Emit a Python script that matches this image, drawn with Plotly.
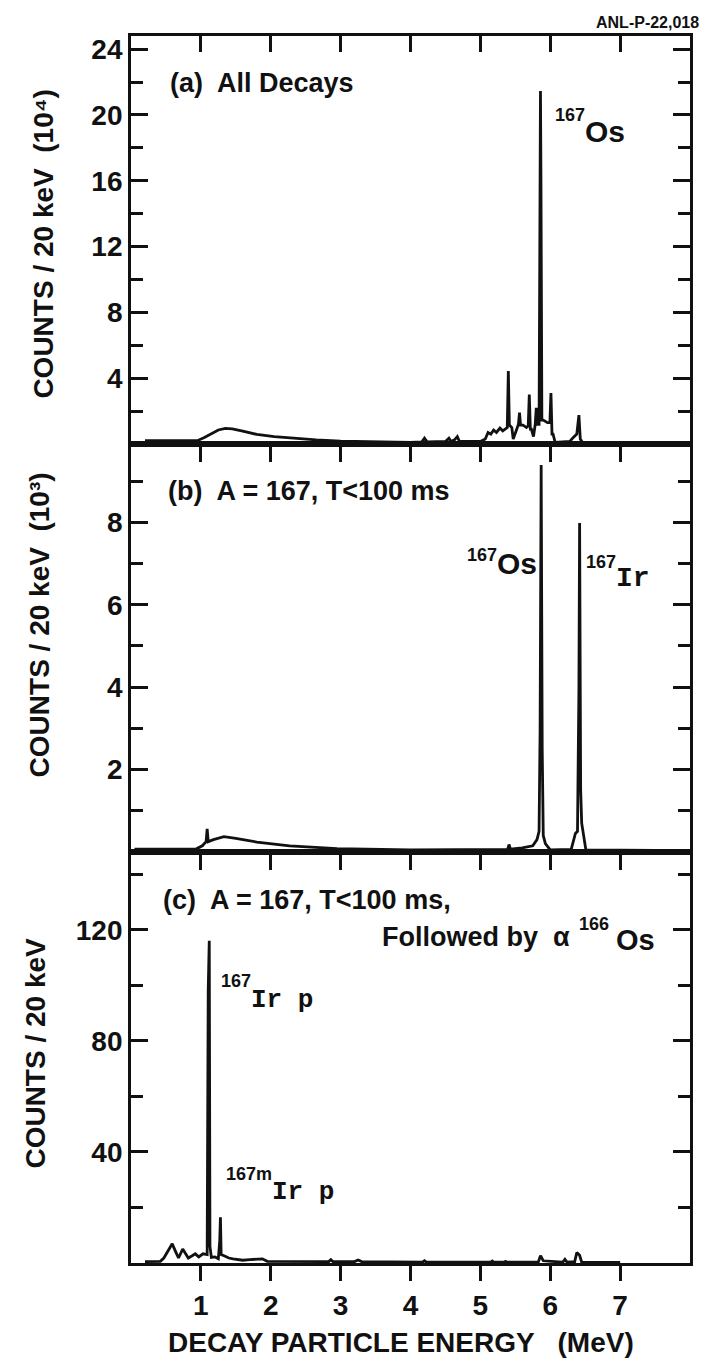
import plotly.graph_objects as go

# Panel (a): all decays, counts / 20 keV in units of 10^4
a_energy = [0.20, 0.95, 1.05, 1.15, 1.25, 1.35, 1.45, 1.60, 1.80, 2.05, 2.30, 2.65, 3.00, 3.50,
            4.00, 4.16, 4.20, 4.24, 4.50, 4.55, 4.58, 4.63, 4.67, 4.70, 5.00, 5.07, 5.11, 5.15,
            5.19, 5.23, 5.28, 5.32, 5.36, 5.385, 5.40, 5.415, 5.45, 5.47, 5.52, 5.545, 5.56,
            5.575, 5.61, 5.66, 5.685, 5.70, 5.715, 5.73, 5.76, 5.785, 5.80, 5.815, 5.84, 5.853,
            5.86, 5.867, 5.88, 5.90, 5.96, 5.995, 6.01, 6.025, 6.04, 6.07, 6.28, 6.33, 6.38,
            6.41, 6.43, 6.46, 8.00]
a_counts = [0.20, 0.20, 0.40, 0.65, 0.85, 0.95, 0.92, 0.78, 0.58, 0.45, 0.35, 0.25, 0.17, 0.12,
            0.10, 0.12, 0.35, 0.12, 0.15, 0.35, 0.15, 0.25, 0.45, 0.15, 0.15, 0.30, 0.70, 0.60,
            0.85, 0.70, 0.97, 0.80, 0.90, 1.00, 4.44, 1.15, 1.00, 0.30, 0.90, 1.20, 1.90,
            1.15, 1.15, 1.00, 1.10, 3.00, 0.90, 0.90, 0.45, 1.20, 2.20, 1.20, 1.20, 16.0,
            21.45, 16.0, 1.45, 1.45, 1.30, 1.30, 3.10, 0.60, 0.60, 0.10, 0.15, 0.40, 0.60,
            1.75, 0.30, 0.10, 0.08]

# Panel (b): A = 167, T < 100 ms, counts / 20 keV in units of 10^3
b_energy = [0.05, 0.93, 1.02, 1.075, 1.09, 1.105, 1.18, 1.33, 1.50, 1.80, 2.27, 2.95, 4.00,
            5.00, 5.39, 5.41, 5.43, 5.60, 5.75, 5.81, 5.84, 5.855, 5.87, 5.885, 5.90, 5.93,
            6.00, 6.30, 6.36, 6.39, 6.41, 6.42, 6.435, 6.45, 6.48, 6.51, 8.00]
b_counts = [0.07, 0.07, 0.15, 0.25, 0.56, 0.25, 0.30, 0.37, 0.33, 0.24, 0.15, 0.08, 0.05,
            0.05, 0.06, 0.18, 0.07, 0.10, 0.15, 0.30, 0.50, 3.00, 9.39, 2.50, 0.40, 0.20,
            0.05, 0.06, 0.45, 0.50, 3.90, 7.98, 1.50, 0.70, 0.40, 0.05, 0.03]

# Panel (c): A = 167, T < 100 ms, followed by alpha decay of 166Os, counts / 20 keV
c_energy = [0.20, 0.42, 0.47, 0.53, 0.59, 0.64, 0.68, 0.74, 0.78, 0.82, 0.87, 0.92, 0.97,
            1.03, 1.09, 1.105, 1.12, 1.13, 1.15, 1.20, 1.25, 1.27, 1.28, 1.29, 1.34, 1.40,
            1.46, 1.60, 1.70, 1.80, 1.88, 1.95, 2.50, 2.83, 2.86, 2.89, 3.20, 3.25, 3.30,
            4.17, 4.20, 4.23, 5.15, 5.17, 5.19, 5.34, 5.36, 5.38, 5.83, 5.86, 5.90, 6.18,
            6.21, 6.24, 6.35, 6.38, 6.42, 6.45, 7.00]
c_counts = [0.5, 0.6, 1.8, 4.5, 6.9, 4.0, 1.8, 5.0, 3.5, 1.8, 2.5, 3.3, 2.2,
            3.3, 3.0, 98.0, 116.0, 6.0, 2.0, 2.2, 1.5, 8.0, 16.5, 3.0, 2.5, 1.8,
            1.5, 1.0, 1.2, 1.4, 1.5, 0.6, 0.5, 0.5, 1.2, 0.5, 0.5, 1.1, 0.5,
            0.3, 0.8, 0.3, 0.3, 0.7, 0.3, 0.3, 0.6, 0.3, 0.4, 2.6, 0.8, 0.3,
            1.3, 0.3, 0.5, 3.8, 2.8, 0.3, 0.2]

energy_ticks = [1, 2, 3, 4, 5, 6, 7]
a_major, a_minor = [4, 8, 12, 16, 20, 24], [2, 6, 10, 14, 18, 22]
b_major, b_minor = [2, 4, 6, 8], [1, 3, 5, 7, 9]
c_major, c_minor = [40, 80, 120], [20, 60, 100, 140]

INK = "#111111"
FONT = "Liberation Sans"
MONO = "Liberation Mono"

fig = go.Figure()
line = dict(color=INK, width=2.8)
fig.add_trace(go.Scatter(x=a_energy, y=a_counts, xaxis="x", yaxis="y", mode="lines", line=line))
fig.add_trace(go.Scatter(x=b_energy, y=b_counts, xaxis="x2", yaxis="y2", mode="lines", line=line))
fig.add_trace(go.Scatter(x=c_energy, y=c_counts, xaxis="x3", yaxis="y3", mode="lines", line=line))
# empty trace that carries the top tick axis of panel (a)
fig.add_trace(go.Scatter(x=[None], y=[None], xaxis="x4", yaxis="y", mode="lines",
                         hoverinfo="skip"))

tickfont = dict(size=28, family=FONT, color=INK, weight="bold")
frame = dict(showline=True, linewidth=2.8, linecolor=INK, mirror=True,
             showgrid=False, zeroline=False)
xcommon = dict(frame, range=[0, 8], tickvals=energy_ticks, ticks="outside", ticklen=15,
               tickwidth=2.6, tickcolor=INK)


def yaxis(domain, anchor, rng, major, minor):
    return dict(frame, domain=domain, anchor=anchor, range=rng, tickvals=major,
                ticks="inside", ticklen=17, tickwidth=2.6, tickcolor=INK,
                tickfont=tickfont, mirror="ticks",
                minor=dict(tickvals=minor, ticks="inside", ticklen=12, tickwidth=2.6,
                           tickcolor=INK))


fig.update_layout(
    width=705, height=1365,
    margin=dict(l=131, r=13, t=36, b=102),
    paper_bgcolor="white", plot_bgcolor="white",
    showlegend=False,
    font=dict(family=FONT, color=INK),
    xaxis=dict(xcommon, anchor="y", showticklabels=False),
    xaxis2=dict(xcommon, anchor="y2", showticklabels=False),
    xaxis3=dict(xcommon, anchor="y3", showticklabels=True, tickfont=tickfont),
    xaxis4=dict(overlaying="x", anchor="y", side="top", range=[0, 8], tickvals=energy_ticks,
                ticks="inside", ticklen=16, tickwidth=2.6, tickcolor=INK,
                showticklabels=False, showline=False, showgrid=False, zeroline=False),
    yaxis=yaxis([0.6675, 1.0], "x", [0, 24.8], a_major, a_minor),
    yaxis2=yaxis([0.335, 0.6675], "x2", [0, 9.9], b_major, b_minor),
    yaxis3=yaxis([0.0, 0.335], "x3", [0, 148], c_major, c_minor),
)

ann = []


def note(text, x, y, xref, yref, size=27, xanchor="left", angle=0, family=FONT, xshift=0):
    ann.append(dict(text=text, x=x, y=y, xref=xref, yref=yref, showarrow=False,
                    xanchor=xanchor, yanchor="middle", textangle=angle, borderpad=0,
                    xshift=xshift,
                    font=dict(size=size, family=family, color=INK, weight="bold")))


SUP = 18

note("ANL-P-22,018", 1.018, 1.0114, "paper", "paper", size=16, xanchor="right")

# panel (a)
note("(a)  All Decays", 0.54, 21.95, "x", "y")
note("167", 6.49, 20.0, "x", "y", size=SUP, xanchor="right", xshift=2)
note("Os", 6.49, 18.98, "x", "y", size=30)

# panel (b)
note("(b)  A = 167, T&lt;100 ms", 0.51, 8.76, "x2", "y2")
note("167", 5.22, 7.21, "x2", "y2", size=SUP, xanchor="right", xshift=2)
note("Os", 5.22, 7.0, "x2", "y2", size=30)
note("167", 6.92, 7.04, "x2", "y2", size=SUP, xanchor="right", xshift=2)
note("Ir", 6.92, 6.63, "x2", "y2", size=28, family=MONO)

# panel (c)
note("(c)  A = 167, T&lt;100 ms,", 0.44, 130.7, "x3", "y3")
note("Followed by  α", 6.29, 117.4, "x3", "y3", xanchor="right")
note("166", 6.39, 122.1, "x3", "y3", size=SUP)
note("Os", 6.92, 116.3, "x3", "y3", size=29)
note("167", 1.71, 101.5, "x3", "y3", size=SUP, xanchor="right", xshift=2)
note("Ir p", 1.71, 94.7, "x3", "y3", size=26, family=MONO)
note("167m", 2.0, 32.0, "x3", "y3", size=SUP, xanchor="right", xshift=2)
note("Ir p", 2.0, 25.6, "x3", "y3", size=26, family=MONO)

# axis titles
note("COUNTS / 20 keV  (10⁴)", -0.157, 0.831, "paper", "paper", size=28,
     xanchor="center", angle=-90)
note("COUNTS / 20 keV  (10³)", -0.162, 0.52, "paper", "paper", size=28,
     xanchor="center", angle=-90)
note("COUNTS / 20 keV", -0.171, 0.171, "paper", "paper", size=28,
     xanchor="center", angle=-90)
note("DECAY PARTICLE ENERGY   (MeV)", 0.483, -0.065, "paper", "paper", size=28,
     xanchor="center")

fig.update_layout(annotations=ann)
fig.write_html("out.html")
